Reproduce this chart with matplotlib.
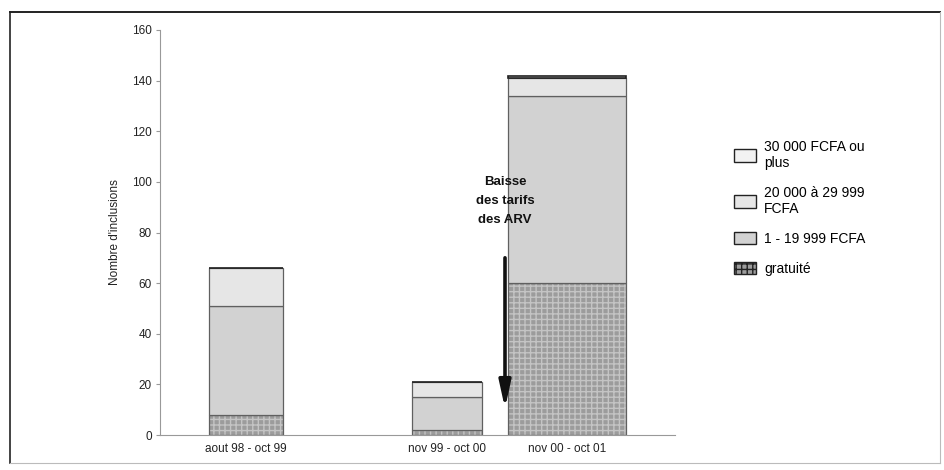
import matplotlib
matplotlib.use("Agg")
import matplotlib.pyplot as plt
from matplotlib.lines import Line2D
from matplotlib.patches import Patch

plt.rcParams['font.family'] = ['Liberation Sans', 'DejaVu Sans']

# Data
periods = ["aout 98 - oct 99", "nov 99 - oct 00", "nov 00 - oct 01"]
gratuite = [8, 2, 60]
tarif_1_19999 = [43, 13, 74]
tarif_20000_29999 = [15, 6, 7]
tarif_30000_plus = [0, 0, 1]
legend_labels = ["30 000 FCFA ou\nplus", "20 000 à 29 999\nFCFA", "1 - 19 999 FCFA", "gratuité"]
yticks = [0, 20, 40, 60, 80, 100, 120, 140, 160]

# Layout (x in axis fraction units)
x_pos = [0.167, 0.557, 0.790]
widths = [0.142, 0.136, 0.229]

fig = plt.figure(figsize=(9.44, 4.70), dpi=100)
ax = fig.add_axes([160/944, 1-435/470, 515/944, 405/470])

edge = "#606060"
# gratuité: dark, cross-hatched texture
ax.bar(x_pos, gratuite, width=widths, color="#9c9c9c", edgecolor="#c4c4c4",
       hatch="+++", linewidth=0)
ax.bar(x_pos, gratuite, width=widths, fill=False, edgecolor=edge, linewidth=0.9)
b1 = [g for g in gratuite]
ax.bar(x_pos, tarif_1_19999, bottom=b1, width=widths, color="#d2d2d2",
       edgecolor=edge, linewidth=0.9)
b2 = [g + t for g, t in zip(b1, tarif_1_19999)]
ax.bar(x_pos, tarif_20000_29999, bottom=b2, width=widths, color="#e6e6e6",
       edgecolor=edge, linewidth=0.9)
b3 = [b + t for b, t in zip(b2, tarif_20000_29999)]
ax.bar(x_pos, tarif_30000_plus, bottom=b3, width=widths, color="#f2f2f2",
       edgecolor="#202020", linewidth=1.2)

ax.set_xlim(0, 1)
ax.set_ylim(0, 160)
ax.set_yticks(yticks)
ax.set_yticklabels([str(v) for v in yticks], fontsize=8.5, color="#222222")
ax.set_xticks(x_pos)
ax.set_xticklabels(periods, fontsize=8.5, color="#222222")
ax.tick_params(axis="x", length=0, pad=6)
ax.tick_params(axis="y", length=3, color="#999999", pad=3)
for s in ["top", "right"]:
    ax.spines[s].set_visible(False)
ax.spines["left"].set_color("#999999")
ax.spines["bottom"].set_color("#999999")
ax.set_ylabel("Nombre d'inclusions", fontsize=8.5, color="#222222", labelpad=8)

# Annotation: price drop arrow
arrow_x = (505 - 160) / 515
ax.annotate("", xy=(arrow_x, 10.5), xytext=(arrow_x, 70),
            arrowprops=dict(arrowstyle="-|>,head_width=0.35,head_length=1.6",
                            color="#111111", lw=2.6, shrinkA=0, shrinkB=0))
ax.text(arrow_x, 92.5, "Baisse\ndes tarifs\ndes ARV", ha="center", va="center",
        fontsize=9.5, fontweight="bold", linespacing=1.75, color="#111111")

# Legend
handles = [
    Patch(facecolor="#f2f2f2", edgecolor="#222222", linewidth=1.0),
    Patch(facecolor="#e6e6e6", edgecolor="#222222", linewidth=1.0),
    Patch(facecolor="#d2d2d2", edgecolor="#222222", linewidth=1.0),
    Patch(facecolor="#9c9c9c", edgecolor="#222222", linewidth=1.0, hatch="+++"),
]
fig.legend(handles, legend_labels, loc="upper left",
           bbox_to_anchor=(728/944, 1-134/470), frameon=False,
           fontsize=10, handlelength=1.6, handleheight=1.0,
           handletextpad=0.6, labelspacing=1.15, borderaxespad=0)

# Outer frame
fig.add_artist(Line2D([10/944, 940/944], [1-12/470, 1-12/470],
                      transform=fig.transFigure, color="#222222", lw=1.4))
fig.add_artist(Line2D([10/944, 10/944], [1-12/470, 1-463/470],
                      transform=fig.transFigure, color="#222222", lw=1.2))
fig.add_artist(Line2D([10/944, 940/944], [1-463/470, 1-463/470],
                      transform=fig.transFigure, color="#bbbbbb", lw=0.8))
fig.add_artist(Line2D([940/944, 940/944], [1-12/470, 1-463/470],
                      transform=fig.transFigure, color="#bbbbbb", lw=0.8))

fig.savefig("out.png", dpi=100)
